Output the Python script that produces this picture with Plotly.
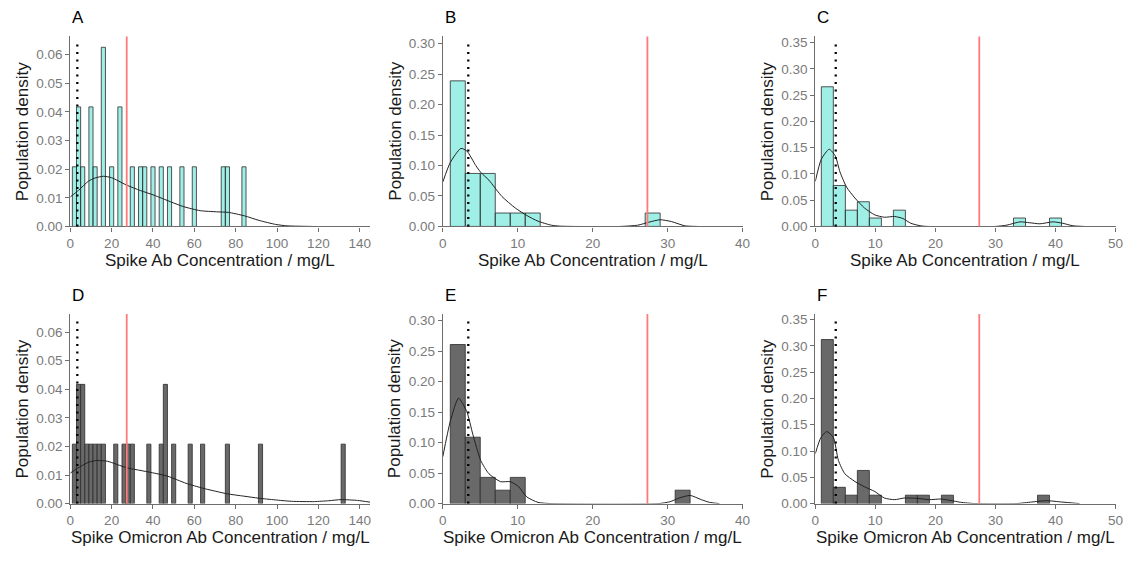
import plotly.graph_objs as go

###############################################################################
# Data (histogram bin centres, binwidth 2, density)
###############################################################################
binWidth = 2
cutLow = 3.4    # dotted black line
cutHigh = 27.3  # red line

# A - Spike Ab
centersA = [2, 4, 6, 10, 12, 16, 20, 24, 30, 34, 36, 40, 44, 48, 54, 60, 74, 76, 84]
densA = [0.0208, 0.0417, 0.0208, 0.0417, 0.0208, 0.0625, 0.0208, 0.0417, 0.0208,
         0.0208, 0.0208, 0.0208, 0.0208, 0.0208, 0.0208, 0.0208, 0.0208, 0.0208, 0.0208]
kdeXA = [0, 4, 8.8, 12, 16, 20, 27, 34, 40.5, 48.5, 54.8, 62.8, 70.7, 76.4, 84.2,
         91.3, 99.3, 104.8, 117]
kdeYA = [0.0103, 0.0126, 0.0158, 0.0169, 0.0175, 0.0170, 0.0145, 0.0125, 0.0109,
         0.0086, 0.0069, 0.0055, 0.0051, 0.0049, 0.0037, 0.0021, 0.0007, 0.0002, 0.0]

# B - Spike Ab
centersB = [2, 4, 6, 8, 10, 12, 28]
densB = [0.239, 0.087, 0.087, 0.022, 0.022, 0.022, 0.022]
kdeXB = [0, 1, 2.4, 3.2, 4.4, 5.05, 6.15, 7.9, 9.7, 11.2, 12.7, 14.5, 15.6, 17.4,
         23.7, 26, 27.5, 29, 30.5, 32.3, 34]
kdeYB = [0.073, 0.105, 0.128, 0.124, 0.100, 0.089, 0.076, 0.049, 0.030, 0.018,
         0.0086, 0.002, 0.0005, 0, 0, 0.002, 0.007, 0.011, 0.008, 0.001, 0]

# C - Spike Ab
centersC = [2, 4, 6, 8, 10, 14, 34, 40]
densC = [0.266, 0.078, 0.031, 0.047, 0.016, 0.031, 0.016, 0.016]
kdeXC = [0, 1, 2.3, 3.3, 4.1, 5.2, 6.6, 8.2, 9.9, 11.5, 13.2, 14.6, 15.9, 17.6,
         18.7, 30, 31.9, 34.1, 35.7, 37.4, 39.6, 41.2, 42.9, 44.8]
kdeYC = [0.086, 0.128, 0.147, 0.135, 0.104, 0.075, 0.054, 0.035, 0.022, 0.0175,
         0.019, 0.015, 0.006, 0.001, 0, 0, 0.0025, 0.0087, 0.007, 0.005, 0.0087,
         0.006, 0.0012, 0]

# D - Spike Omicron Ab
centersD = [2, 4, 6, 8, 10, 12, 14, 16, 22, 26, 28, 30, 38, 44, 46, 50, 58, 64,
            76, 92, 132]
densD = [0.0208, 0.0417, 0.0417, 0.0208, 0.0208, 0.0208, 0.0208, 0.0208, 0.0208,
         0.0208, 0.0208, 0.0208, 0.0208, 0.0208, 0.0417, 0.0208, 0.0208, 0.0208,
         0.0208, 0.0208, 0.0208]
kdeXD = [0, 5, 9, 13, 18, 27, 39, 47, 56, 64, 71, 76, 84, 91, 99, 107, 118, 125,
         131, 139, 145]
kdeYD = [0.0107, 0.0130, 0.0145, 0.0151, 0.0148, 0.0126, 0.0109, 0.0096, 0.0071,
         0.0054, 0.0042, 0.0034, 0.0026, 0.0019, 0.0013, 0.0008, 0.0007, 0.0010,
         0.0014, 0.0011, 0.0005]

# E - Spike Omicron Ab
centersE = [2, 4, 6, 8, 10, 32]
densE = [0.261, 0.109, 0.043, 0.022, 0.043, 0.022]
kdeXE = [0, 1, 2.1, 3.2, 4.0, 5.05, 6.15, 7.7, 9.0, 10.1, 11.2, 12.7, 14.5, 28.8,
         30.3, 31.5, 33, 34.5, 35.6, 36.9]
kdeYE = [0.077, 0.135, 0.173, 0.151, 0.114, 0.071, 0.049, 0.036, 0.036, 0.028,
         0.011, 0.002, 0, 0, 0.003, 0.009, 0.0134, 0.0064, 0.002, 0]

# F - Spike Omicron Ab
centersF = [2, 4, 6, 8, 10, 16, 18, 22, 38]
densF = [0.312, 0.031, 0.016, 0.063, 0.016, 0.016, 0.016, 0.016, 0.016]
kdeXF = [0, 0.9, 1.9, 3.0, 3.85, 4.9, 6.6, 8.2, 9.9, 11.5, 13.2, 14.8, 17.0, 19.0,
         20.9, 22.5, 24.2, 26.6, 33.5, 36, 38.5, 41, 44]
kdeYF = [0.095, 0.125, 0.137, 0.126, 0.082, 0.057, 0.042, 0.032, 0.023, 0.0106,
         0.0075, 0.0106, 0.010, 0.0075, 0.0087, 0.006, 0.0025, 0, 0, 0.003, 0.0056,
         0.003, 0]

panelLabels = ["A", "B", "C", "D", "E", "F"]
xTitles = ["Spike Ab Concentration / mg/L"] * 3 + ["Spike Omicron Ab Concentration / mg/L"] * 3
yTitle = "Population density"

###############################################################################
# Styling / layout
###############################################################################
font = "Liberation Sans, Arial, sans-serif"
cyanFill = "rgba(64,224,208,0.5)"
greyFill = "#696969"
axisCol = "#6e6e6e"
tickCol = "#7a7a7a"

centers = [centersA, centersB, centersC, centersD, centersE, centersF]
dens = [densA, densB, densC, densD, densE, densF]
kdeX = [kdeXA, kdeXB, kdeXC, kdeXD, kdeXE, kdeXF]
kdeY = [kdeYA, kdeYB, kdeYC, kdeYD, kdeYE, kdeYF]
fills = [cyanFill] * 3 + [greyFill] * 3

xRanges = [[0, 145], [0, 40], [0, 50]] * 2
xDticks = [20, 10, 10] * 2
yRanges = [[0, 0.0663], [0, 0.312], [0, 0.362], [0, 0.0663], [0, 0.311], [0, 0.3605]]
yDticks = [0.01, 0.05, 0.05] * 2

W, H = 1133, 561
colPx = [[67, 370], [443.5, 746.5], [820, 1123.5]]
rowPx = [[35, 228.5], [317.7, 510.7]]

traces = []
shapes = []
annotations = []
layout = go.Layout(
    autosize=True,
    margin=dict(l=0, r=0, t=0, b=0),
    paper_bgcolor="white", plot_bgcolor="white",
    showlegend=False, font=dict(family=font),
)

for i in range(6):
    sfx = "" if i == 0 else str(i + 1)
    col, row = i % 3, i // 3
    xd = [colPx[col][0] / W, colPx[col][1] / W]
    yd = [1 - rowPx[row][1] / H, 1 - rowPx[row][0] / H]

    traces.append(go.Bar(
        x=centers[i], y=dens[i], width=binWidth,
        marker=dict(color=fills[i], line=dict(color="#2b2b2b", width=0.8)),
        xaxis="x" + sfx, yaxis="y" + sfx, hoverinfo="x+y"
    ))
    traces.append(go.Scatter(
        x=kdeX[i], y=kdeY[i], mode="lines",
        line=dict(color="#222222", width=1, shape="spline", smoothing=0.6),
        xaxis="x" + sfx, yaxis="y" + sfx, hoverinfo="skip"
    ))

    layout["xaxis" + sfx] = dict(
        domain=xd, range=xRanges[i], anchor="y" + sfx,
        showline=True, linecolor=axisCol, linewidth=1.3,
        ticks="outside", ticklen=4, tickcolor=axisCol, tickwidth=1,
        tick0=0, dtick=xDticks[i],
        tickfont=dict(size=13.5, color=tickCol, family=font),
        showgrid=False, zeroline=False,
    )
    layout["yaxis" + sfx] = dict(
        domain=yd, range=yRanges[i], anchor="x" + sfx,
        showline=True, linecolor=axisCol, linewidth=1.3,
        ticks="outside", ticklen=4, tickcolor=axisCol, tickwidth=1,
        tick0=0, dtick=yDticks[i], tickformat=".2f",
        tickfont=dict(size=13.5, color=tickCol, family=font),
        showgrid=False, zeroline=False,
    )

    xref = "x" + sfx
    ydom = "y" + sfx + " domain"
    shapes.append(dict(type="line", xref=xref, yref=ydom, x0=cutHigh, x1=cutHigh,
                       y0=0, y1=1, line=dict(color="#ff7b7b", width=1.8)))
    shapes.append(dict(type="line", xref=xref, yref=ydom, x0=cutLow, x1=cutLow,
                       y0=0, y1=0.98, line=dict(color="black", width=2.3, dash="2px,5.5px")))

    # panel letter, axis titles
    annotations.append(dict(text=panelLabels[i], xref="paper", yref="paper",
                            x=colPx[col][0] / W, y=1 - (16 + row * 282.5) / H,
                            xanchor="left", yanchor="middle", showarrow=False,
                            font=dict(size=17, color="black", family=font)))
    annotations.append(dict(text=xTitles[i], xref="paper", yref="paper",
                            x=(colPx[col][0] + colPx[col][1]) / 2 / W,
                            y=1 - (rowPx[row][1] + 35) / H,
                            xanchor="center", yanchor="middle", showarrow=False,
                            font=dict(size=17, color="#1a1a1a", family=font)))
    annotations.append(dict(text=yTitle, xref="paper", yref="paper", textangle=-90,
                            x=(colPx[col][0] - 48) / W,
                            y=1 - (rowPx[row][0] + rowPx[row][1]) / 2 / H,
                            xanchor="center", yanchor="middle", showarrow=False,
                            font=dict(size=17, color="#1a1a1a", family=font)))

layout["shapes"] = shapes
layout["annotations"] = annotations
fig = go.Figure(data=traces, layout=layout)
# let the figure fill the browser window exactly (no body margin, no scrollbars)
pageFix = ("var s=document.createElement('style');"
           "s.innerHTML='html,body{margin:0;padding:0;width:100%;height:100%;overflow:hidden;}';"
           "document.head.appendChild(s);"
           "var gd=document.getElementById('{plot_id}');"
           "gd.parentElement.style.width='100%';gd.parentElement.style.height='100%';"
           "gd.style.width='100vw';gd.style.height='100vh';"
           "Plotly.Plots.resize(gd);")
fig.write_html("out.html", config={"displayModeBar": False, "responsive": True},
               default_width="100%", default_height="100%", post_script=pageFix)
